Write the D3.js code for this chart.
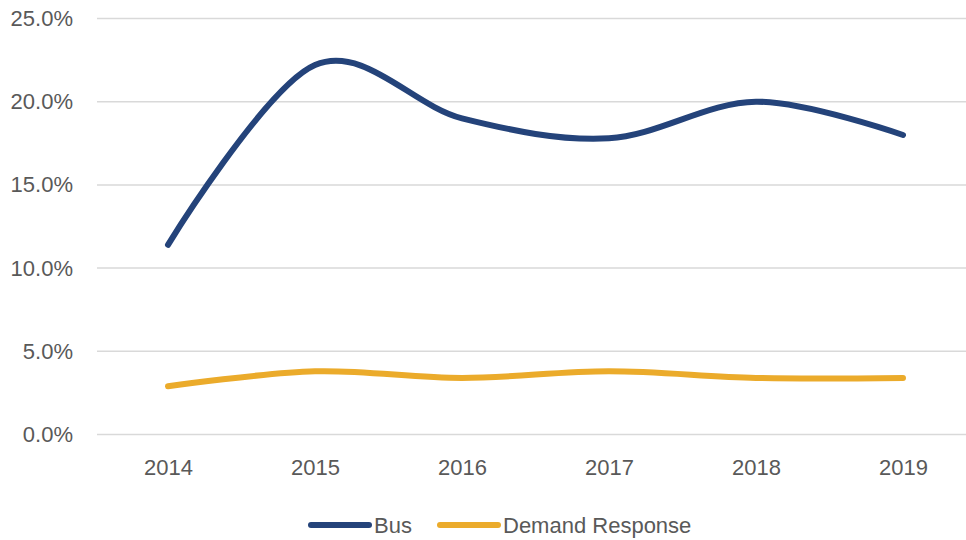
<!DOCTYPE html>
<html>
<head>
<meta charset="utf-8">
<script src="https://cdn.jsdelivr.net/npm/d3@7"></script>
<style>
    body { margin: 0; background: #fff; }
    svg { display: block; }
    text { font-family: "Liberation Sans", Arial, sans-serif; fill: #595959; }
</style>
</head>
<body>
<div id="chart"></div>
<script>
// data
var years = ["2014", "2015", "2016", "2017", "2018", "2019"];
var busValues = [11.4, 22.2, 19.0, 17.8, 20.0, 18.0];
var demandResponseValues = [2.9, 3.8, 3.4, 3.8, 3.4, 3.4];
var yTicks = [0, 5, 10, 15, 20, 25];
var seriesNames = ["Bus", "Demand Response"];
var seriesColors = ["#24437a", "#ebab2b"];

var width = 966, height = 540;

var svg = d3.select("#chart").append("svg")
    .attr("width", width)
    .attr("height", height);

var x = d3.scalePoint()
    .domain(years)
    .range([168, 903]);

var y = d3.scaleLinear()
    .domain([0, 25])
    .range([434.5, 18.5]);

// gridlines
svg.append("g").attr("class", "grid")
    .selectAll("line")
    .data(yTicks)
    .enter()
    .append("line")
    .attr("x1", 97)
    .attr("x2", 966)
    .attr("y1", function(d) { return y(d); })
    .attr("y2", function(d) { return y(d); })
    .attr("stroke", "#d9d9d9")
    .attr("stroke-width", 1.5);

// y axis labels
var yAxis = d3.axisLeft(y)
    .tickValues(yTicks)
    .tickFormat(function(d) { return d.toFixed(1) + "%"; })
    .tickSize(0)
    .tickPadding(0);

svg.append("g")
    .attr("class", "y axis")
    .attr("transform", "translate(73,0)")
    .call(yAxis)
    .call(function(g) { g.select(".domain").remove(); })
    .selectAll("text")
    .style("font-size", "22px")
    .attr("fill", "#595959");

// x axis labels
var xAxis = d3.axisBottom(x).tickSize(0).tickPadding(0);

svg.append("g")
    .attr("class", "x axis")
    .attr("transform", "translate(0,459)")
    .call(xAxis)
    .call(function(g) { g.select(".domain").remove(); })
    .selectAll("text")
    .style("font-size", "22px")
    .attr("fill", "#595959");

// lines
var line = d3.line()
    .curve(d3.curveCardinal.tension(0))
    .x(function(d, i) { return x(years[i]); })
    .y(function(d) { return y(d); });

var series = [busValues, demandResponseValues];

svg.append("g").attr("class", "lines")
    .selectAll("path")
    .data(series)
    .enter()
    .append("path")
    .attr("d", function(d) { return line(d); })
    .attr("fill", "none")
    .attr("stroke", function(d, i) { return seriesColors[i]; })
    .attr("stroke-width", 6)
    .attr("stroke-linecap", "round");

// legend
var legendX = [311, 440];
var legend = svg.append("g").attr("class", "legend")
    .selectAll("g")
    .data(seriesNames)
    .enter()
    .append("g")
    .attr("transform", function(d, i) { return "translate(" + legendX[i] + ",525)"; });

legend.append("line")
    .attr("x1", 0)
    .attr("x2", 58)
    .attr("stroke", function(d, i) { return seriesColors[i]; })
    .attr("stroke-width", 6)
    .attr("stroke-linecap", "round");

legend.append("text")
    .attr("x", 63)
    .attr("dy", "0.35em")
    .style("font-size", "22px")
    .text(function(d) { return d; });
</script>
</body>
</html>
